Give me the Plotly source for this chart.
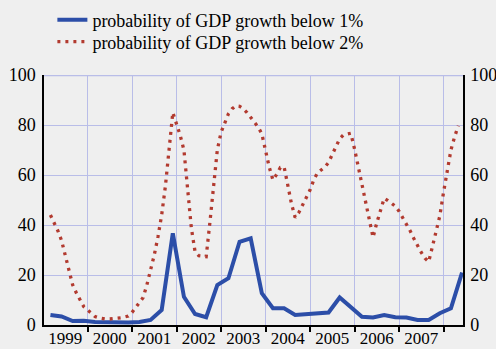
import plotly.graph_objects as go

# ---- data ----
blue_start = 1999 + 2/12          # first quarterly observation
blue_values = [4.0, 3.4, 1.6, 1.7, 1.2, 1.0, 1.0, 1.0, 1.2, 2.0,
               6.0, 36.7, 11.3, 4.4, 3.1, 16.0, 18.7, 33.3, 34.7, 12.7,
               6.7, 6.7, 4.0, 4.4, 4.4, 5.0, 11.0, 7.3, 3.3, 3.0,
               4.0, 3.1, 3.0, 2.0, 2.0, 4.7, 6.7, 21.0]
red_start = 1999 + 2/12           # first monthly observation
red_values = [44, 41, 37.7, 33.8, 27.4, 21.5, 16, 12.8, 9.7, 7.3,
              6, 4.8, 3.4, 2.9, 2.5, 2.4, 2.4, 2.5, 2.7, 2.9,
              3.2, 3.6, 5, 7, 8.5, 11, 16, 21.5, 28, 35.3,
              44, 55.5, 71.3, 85, 80.4, 75.8, 70, 55, 38.8, 29.3,
              27.7, 27.5, 27.3, 41, 55.5, 70, 77, 81, 84.5, 86.5,
              87.7, 87.5, 86.5, 85, 83.2, 81.3, 79.2, 76.5, 69.5, 63.2,
              58, 60.2, 63, 63.3, 56, 48.5, 43, 45, 48, 50.8,
              54, 58, 60.8, 62, 63.2, 65, 68.2, 71.3, 74.5, 76,
              76.5, 76.7, 70.5, 63.5, 57, 49.5, 41.5, 35, 40.8, 46,
              50.7, 49.8, 48.8, 47.5, 45.5, 43, 40.7, 37.7, 34.6, 31.6,
              29, 26.7, 25.3, 31.3, 37.2, 43.6, 53, 61.5, 70, 75.3,
              79.7]
years = [1999, 2000, 2001, 2002, 2003, 2004, 2005, 2006, 2007]
year_bounds = [1999, 2000, 2001, 2002, 2003, 2004, 2005, 2006, 2007, 2008]
y_ticks = [0, 20, 40, 60, 80, 100]
series_names = ["probability of GDP growth below 1%",
                "probability of GDP growth below 2%"]

blue_x = [blue_start + 0.25 * i for i in range(len(blue_values))]
red_x = [red_start + i / 12 for i in range(len(red_values))]

BG = "#efefef"
GRID = "#b9bde8"
FONT = "Liberation Serif"

fig = go.Figure()
fig.add_trace(go.Scatter(x=blue_x, y=blue_values, mode="lines",
                         name=series_names[0], legend="legend",
                         line=dict(color="#2c4ea8", width=4)))
fig.add_trace(go.Scatter(x=red_x, y=red_values, mode="lines",
                         name=series_names[1], legend="legend2",
                         line=dict(color="#b23a2f", width=3.3, dash="3px,5px")))
# invisible trace to carry right axis
fig.add_trace(go.Scatter(x=[blue_x[0]], y=[0], yaxis="y2", mode="lines",
                         showlegend=False, hoverinfo="skip",
                         line=dict(width=0)))

leg_common = dict(x=0.02, xanchor="left", yanchor="middle",
                  bgcolor="rgba(0,0,0,0)", font=dict(size=18, family=FONT),
                  itemwidth=30)

fig.update_layout(
    width=496, height=349,
    paper_bgcolor=BG, plot_bgcolor=BG,
    margin=dict(l=44, r=33, t=75, b=24, autoexpand=False),
    font=dict(family=FONT, size=17, color="black"),
    showlegend=True,
    legend=dict(y=1 + (75 - 20) / 250, **leg_common),
    legend2=dict(y=1 + (75 - 42) / 250, **leg_common),
    xaxis=dict(range=[1999.022, 2008.438],
               tickmode="array", tickvals=[y + 0.5 for y in years],
               ticktext=[str(y) for y in years],
               ticks="", showgrid=False, zeroline=False,
               showline=True, linecolor="black", linewidth=1.5,
               ticklabelstandoff=-3,
               tickfont=dict(size=17, family=FONT),
               minor=dict(tickmode="array", tickvals=year_bounds,
                          ticks="outside", ticklen=5, tickwidth=1.5,
                          tickcolor="black", showgrid=True,
                          gridcolor=GRID, gridwidth=1)),
    yaxis=dict(range=[0, 100], tickmode="array", tickvals=y_ticks,
               showgrid=True, gridcolor=GRID, gridwidth=1, zeroline=False,
               showline=True, linecolor="black", linewidth=1.5,
               ticks="", ticklabelstandoff=3,
               tickfont=dict(size=18, family=FONT)),
    yaxis2=dict(range=[0, 100], tickmode="array", tickvals=y_ticks,
                overlaying="y", side="right", showgrid=False, zeroline=False,
                showline=True, linecolor="black", linewidth=1.5,
                ticks="", ticklabelstandoff=2,
                tickfont=dict(size=18, family=FONT)),
    shapes=[dict(type="line", xref="paper", yref="y", x0=0, x1=1,
                 y0=100, y1=100, line=dict(color=GRID, width=2.5))],
)

fig.write_html("out.html", config={"displayModeBar": False},
               post_script="document.body.style.margin='0';"
                           "document.body.style.background='#efefef';")
